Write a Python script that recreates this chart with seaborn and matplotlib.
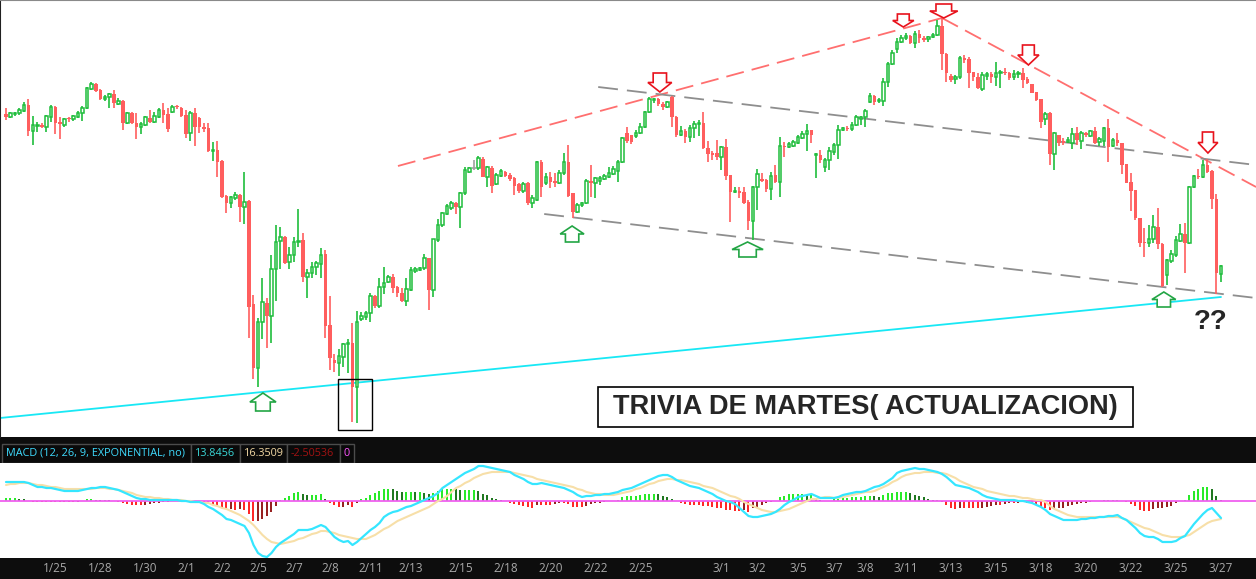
import matplotlib
matplotlib.use("Agg")
import matplotlib.pyplot as plt
from matplotlib.patches import Polygon, Rectangle
import numpy as np
import pandas as pd
import seaborn as sns

# ---- velas (precio en unidades del grafico) ----
opens = [
    386, 383, 386, 387, 389, 395, 369, 374, 375, 373,
    383, 393, 378, 375, 382, 381, 383, 387, 392, 411,
    416, 410, 401, 403, 406, 396, 399, 377, 387, 377,
    373, 375, 382, 378, 383, 390, 386, 388, 394, 392,
    385, 367, 387, 382, 373, 372, 349, 350, 339, 304,
    297, 302, 305, 293, 299, 196, 132, 178, 197, 184,
    231, 259, 263, 238, 245, 258, 260, 223, 227, 233,
    236, 246, 175, 140, 137, 143, 156, 157, 113, 181,
    183, 187, 204, 194, 213, 218, 223, 213, 207, 199,
    210, 229, 230, 232, 242, 210, 260, 275, 286, 292,
    297, 293, 307, 328, 332, 332, 341, 323, 332, 316,
    324, 328, 325, 322, 316, 309, 317, 297, 300, 338,
    317, 323, 319, 317, 327, 338, 307, 288, 295, 297,
    319, 317, 319, 321, 323, 326, 329, 338, 367, 365,
    364, 367, 373, 388, 400, 401, 396, 393, 403, 383,
    365, 369, 363, 372, 376, 377, 352, 347, 347, 343,
    353, 325, 308, 309, 308, 298, 279, 313, 321, 320,
    311, 325, 318, 354, 353, 354, 357, 362, 366, 370,
    345, 345, 333, 340, 348, 355, 370, 372, 371, 375,
    381, 383, 398, 404, 399, 399, 418, 436, 451, 458,
    462, 464, 457, 466, 462, 461, 463, 465, 474, 446,
    424, 421, 423, 442, 441, 428, 423, 411, 424, 426,
    423, 427, 428, 427, 423, 426, 427, 421, 416, 408,
    401, 381, 387, 346, 365, 359, 358, 357, 367, 359,
    367, 364, 369, 358, 359, 372, 354, 360, 357, 336,
    318, 310, 282, 258, 257, 261, 273, 256, 225, 239,
    245, 259, 266, 257, 313, 324, 323, 335, 329, 301,
    226,
]
highs = [
    392, 388, 388, 392, 398, 401, 384, 378, 377, 385,
    395, 394, 383, 382, 383, 385, 389, 394, 413, 418,
    417, 411, 405, 407, 410, 402, 400, 388, 388, 387,
    378, 384, 390, 388, 392, 397, 392, 395, 395, 393,
    390, 389, 392, 383, 377, 377, 358, 359, 340, 305,
    304, 308, 306, 328, 300, 205, 182, 222, 202, 245,
    275, 273, 264, 253, 263, 291, 267, 231, 238, 239,
    252, 250, 204, 146, 151, 157, 161, 177, 189, 188,
    189, 207, 205, 222, 233, 225, 226, 214, 212, 222,
    233, 233, 233, 246, 242, 261, 281, 288, 296, 299,
    298, 308, 333, 333, 340, 344, 343, 334, 334, 327,
    331, 329, 327, 323, 317, 318, 318, 305, 339, 340,
    327, 328, 327, 330, 347, 355, 307, 297, 298, 321,
    335, 323, 324, 326, 333, 334, 340, 363, 373, 365,
    370, 377, 389, 403, 402, 402, 398, 399, 404, 384,
    374, 371, 375, 379, 380, 388, 359, 349, 360, 354,
    361, 325, 313, 313, 313, 300, 314, 331, 327, 321,
    328, 335, 363, 358, 358, 360, 365, 369, 376, 370,
    347, 350, 342, 353, 357, 375, 373, 374, 378, 385,
    384, 391, 407, 405, 402, 422, 438, 450, 462, 465,
    467, 465, 469, 470, 464, 464, 467, 480, 482, 447,
    426, 425, 444, 445, 443, 428, 427, 428, 428, 428,
    438, 430, 432, 428, 430, 429, 432, 423, 416, 408,
    401, 388, 388, 368, 365, 362, 363, 372, 373, 369,
    368, 370, 373, 363, 373, 381, 362, 367, 357, 336,
    327, 310, 282, 272, 275, 285, 292, 257, 241, 250,
    264, 276, 277, 314, 325, 331, 340, 341, 330, 306,
    235,
]
lows = [
    380, 382, 384, 385, 388, 364, 355, 368, 372, 368,
    378, 366, 361, 373, 378, 379, 382, 379, 391, 410,
    408, 400, 399, 392, 392, 395, 370, 376, 376, 361,
    366, 374, 377, 377, 382, 377, 368, 387, 391, 383,
    362, 359, 354, 367, 368, 348, 339, 323, 302, 287,
    292, 300, 278, 276, 162, 121, 113, 161, 152, 157,
    199, 231, 236, 231, 238, 253, 218, 202, 222, 225,
    222, 162, 130, 128, 124, 133, 127, 78, 77, 179,
    180, 178, 192, 192, 206, 217, 207, 203, 198, 194,
    209, 227, 229, 230, 190, 203, 258, 273, 285, 290,
    286, 272, 305, 327, 330, 330, 323, 313, 307, 315,
    323, 323, 319, 305, 307, 307, 295, 292, 299, 303,
    315, 312, 313, 316, 325, 303, 282, 287, 293, 296,
    303, 302, 315, 320, 322, 325, 318, 337, 357, 356,
    362, 366, 372, 387, 397, 394, 390, 392, 373, 363,
    364, 357, 358, 362, 364, 351, 338, 340, 340, 330,
    320, 278, 307, 302, 296, 270, 260, 290, 318, 308,
    300, 317, 303, 343, 352, 353, 356, 361, 349, 357,
    322, 337, 328, 330, 345, 341, 369, 369, 369, 374,
    375, 373, 397, 395, 397, 394, 413, 435, 447, 457,
    460, 456, 452, 457, 458, 458, 462, 464, 430, 418,
    418, 416, 421, 437, 412, 419, 411, 409, 420, 417,
    414, 412, 425, 420, 420, 422, 412, 416, 407, 399,
    372, 375, 335, 330, 354, 355, 357, 351, 355, 351,
    363, 363, 356, 354, 354, 338, 353, 354, 326, 317,
    289, 280, 253, 243, 253, 257, 251, 213, 215, 237,
    243, 258, 227, 256, 312, 321, 322, 327, 291, 206,
    218,
]
closes = [
    383, 387, 387, 390, 395, 369, 375, 375, 373, 384,
    393, 377, 376, 381, 381, 384, 387, 392, 412, 416,
    409, 401, 403, 406, 397, 399, 377, 387, 377, 373,
    376, 383, 378, 384, 390, 385, 371, 393, 393, 384,
    366, 387, 373, 373, 371, 349, 350, 338, 303, 297,
    303, 305, 293, 298, 193, 132, 178, 198, 184, 231,
    258, 263, 237, 245, 258, 259, 223, 227, 233, 237,
    245, 174, 142, 137, 144, 156, 157, 113, 178, 184,
    187, 204, 194, 213, 217, 223, 212, 207, 199, 211,
    230, 231, 232, 242, 210, 261, 275, 287, 294, 297,
    293, 307, 330, 332, 332, 342, 323, 333, 314, 325,
    329, 324, 321, 314, 309, 316, 297, 302, 338, 313,
    323, 318, 317, 327, 338, 304, 288, 295, 297, 319,
    317, 322, 322, 324, 327, 331, 338, 362, 359, 358,
    367, 373, 388, 401, 401, 396, 393, 398, 383, 365,
    369, 363, 372, 376, 377, 352, 346, 345, 343, 353,
    324, 308, 309, 307, 297, 279, 313, 326, 319, 311,
    324, 318, 354, 353, 356, 358, 363, 366, 369, 365,
    346, 340, 340, 349, 355, 370, 372, 371, 375, 383,
    383, 389, 404, 398, 400, 418, 436, 447, 458, 462,
    464, 457, 466, 462, 460, 463, 465, 474, 446, 427,
    420, 423, 442, 440, 427, 423, 412, 425, 426, 423,
    427, 428, 427, 422, 426, 427, 420, 417, 407, 400,
    378, 386, 346, 367, 357, 357, 360, 366, 360, 367,
    365, 369, 357, 361, 372, 353, 360, 357, 335, 317,
    309, 282, 257, 257, 261, 273, 256, 214, 240, 246,
    260, 266, 257, 313, 324, 323, 335, 328, 301, 227,
    234,
]

# ---- MACD (12, 26, 9) ----
macd_line = [
    19, 19, 19, 19, 19, 18, 16, 14, 14, 13,
    13, 12, 11, 10, 10, 10, 10, 11, 12, 13,
    13, 14, 14, 13, 12, 11, 9, 7, 5, 3,
    2, 2, 1, 1, 1, 1, 1, 1, 1, 0,
    0, -1, -1, -1, -3, -6, -8, -11, -14, -18,
    -19, -21, -23, -25, -32, -44, -52, -55, -56, -52,
    -46, -42, -39, -36, -33, -29, -29, -29, -28, -26,
    -24, -26, -31, -36, -39, -41, -40, -44, -41, -37,
    -33, -29, -26, -22, -16, -13, -11, -10, -8, -6,
    -5, -3, -1, 1, 3, 5, 8, 13, 16, 19,
    22, 25, 28, 30, 32, 35, 35, 34, 33, 32,
    31, 30, 29, 26, 24, 22, 19, 17, 17, 18,
    17, 16, 15, 14, 13, 11, 9, 6, 4, 5,
    5, 6, 6, 7, 7, 8, 9, 11, 12, 13,
    15, 17, 19, 21, 23, 25, 26, 26, 24, 21,
    19, 17, 15, 14, 13, 11, 9, 7, 4, 2,
    0, -1, -3, -7, -11, -15, -16, -16, -15, -14,
    -13, -11, -8, -4, -1, 1, 4, 5, 6, 7,
    5, 3, 3, 3, 3, 4, 6, 7, 8, 9,
    9, 10, 12, 14, 15, 17, 20, 23, 28, 30,
    31, 32, 33, 32, 32, 31, 30, 29, 27, 24,
    20, 16, 15, 14, 13, 11, 9, 6, 4, 3,
    2, 1, 1, 1, 1, 0, 0, -1, -2, -4,
    -6, -9, -13, -15, -17, -19, -19, -19, -19, -18,
    -18, -17, -17, -16, -16, -15, -15, -14, -17, -19,
    -23, -27, -32, -35, -36, -36, -38, -41, -41, -41,
    -40, -37, -35, -29, -23, -18, -13, -9, -7, -12,
    -17,
]
signal_line = [
    16, 17, 17, 18, 18, 18, 17, 16, 16, 15,
    14, 14, 13, 12, 12, 12, 12, 12, 12, 12,
    13, 13, 13, 12, 12, 11, 10, 9, 8, 6,
    5, 4, 4, 3, 3, 2, 2, 1, 1, 1,
    0, 0, -1, -1, -2, -2, -4, -5, -7, -8,
    -10, -12, -14, -17, -20, -24, -29, -34, -38, -41,
    -42, -43, -42, -41, -40, -38, -37, -35, -33, -32,
    -30, -30, -31, -32, -34, -35, -36, -37, -38, -38,
    -38, -36, -34, -31, -28, -26, -23, -20, -18, -16,
    -14, -12, -10, -8, -6, -3, 0, 2, 5, 9,
    13, 15, 18, 20, 23, 25, 27, 28, 29, 29,
    29, 29, 29, 28, 27, 26, 25, 24, 22, 21,
    20, 19, 18, 17, 16, 15, 14, 12, 11, 9,
    8, 7, 7, 6, 6, 6, 7, 8, 9, 10,
    12, 13, 15, 17, 18, 20, 21, 22, 22, 21,
    21, 20, 19, 18, 17, 15, 14, 13, 11, 9,
    7, 5, 4, 2, -1, -3, -5, -7, -9, -10,
    -11, -11, -10, -9, -8, -6, -4, -2, 0, 2,
    2, 3, 4, 4, 3, 3, 4, 5, 6, 7,
    8, 9, 9, 10, 12, 14, 16, 19, 21, 24,
    26, 27, 28, 28, 29, 29, 29, 28, 28, 27,
    25, 23, 20, 18, 16, 14, 13, 12, 10, 9,
    8, 7, 6, 5, 5, 4, 3, 3, 2, 1,
    1, -1, -5, -8, -10, -12, -14, -15, -16, -16,
    -16, -16, -16, -16, -16, -16, -16, -16, -17, -19,
    -21, -23, -25, -27, -28, -30, -32, -34, -35, -36,
    -36, -36, -35, -34, -31, -28, -25, -22, -20, -19,
    -18,
]
macd_hist = [
    2.7, 2.7, 2.7, 2.3, 2.0, 0.3, -1, -1.3, -1.3, -1.3,
    -1.3, -1.3, -1.3, -1.3, -1.3, -1.3, -1, -0.3, 1.7, 2,
    1.3, 1, 1, 0.7, 0, -1, -2.3, -3, -3.7, -4.3,
    -4.3, -3.7, -3, -2.3, -1.7, -1.3, -0.7, -0.3, 0, 0,
    0, -0.3, -1, -1.7, -2.3, -3, -4, -5.3, -6.7, -8.3,
    -8, -9, -7.7, -9.3, -12.7, -20.3, -19.7, -17.7, -14.7, -10.7,
    -4.7, 1, 2.7, 5, 7.7, 8.7, 6.7, 6, 6, 6,
    7, 2, -2.3, -4, -6.3, -5.7, -4, -5.7, -1.7, 1.7,
    3.3, 6, 7.7, 10, 11.7, 12, 11.7, 10.3, 9.3, 9.3,
    9.3, 8.7, 8.7, 8.3, 7, 7.7, 10, 11.7, 12, 12,
    11.7, 11, 11, 11, 11, 10, 6.7, 6, 2.7, 1.7,
    1, 0, -2, -3, -4, -5, -5.7, -6.7, -4, -4,
    -4, -4, -3.3, -2.3, -2.3, -3, -5.7, -5.7, -5.7, -4.7,
    -3, -2.3, -1.7, -1, 0, 0, 1, 3.7, 5, 5.3,
    5.3, 5.7, 6.7, 7, 7, 6.7, 5, 4.3, 2, 0,
    -2.3, -3.3, -3.7, -3.7, -4, -4.7, -5, -5.7, -6.7, -7.3,
    -9, -9, -10, -10, -9, -10.7, -7.3, -5.7, -4, -2.3,
    -1.3, 0, 3.7, 5, 6.7, 7, 7, 7, 6.7, 6.7,
    1.7, 0.7, 0.3, 0.3, 2.7, 2.7, 2.7, 3.3, 3.7, 4,
    4.3, 5, 5.3, 5, 4.3, 6, 7.7, 8.3, 9.3, 9.3,
    9.3, 7.7, 6, 5, 3.7, 1.7, 1, 1, -0.7, -4,
    -6.7, -8, -6.7, -6.7, -6.7, -6.7, -7.3, -6.7, -5.7, -5,
    -4, -4, -3.3, -2.3, -2.3, -1.7, -1.3, -2.3, -3, -4,
    -5.7, -7.3, -9, -8, -7.3, -6.7, -5, -4, -3, -2.3,
    -1.7, -0.7, -0.3, 0, 1, 1, 1, 1, 0, -1.3,
    -3, -4.7, -9, -9.7, -9.7, -8.3, -7.3, -6.7, -6.3, -5,
    -2.3, 0, 1, 6, 10.3, 12, 13.7, 13.7, 12, 5,
    1,
]

# fechas del eje x (indice de vela)
tick_pos = [11, 21, 31, 40, 48, 56, 64, 72, 81, 90, 101, 111, 121, 131,
            141, 159, 167, 176, 184, 191, 200, 210, 220, 230, 240, 250, 260, 270]
tick_labels = ["1/25", "1/28", "1/30", "2/1", "2/2", "2/5", "2/7", "2/8", "2/11",
               "2/13", "2/15", "2/18", "2/20", "2/22", "2/25", "3/1", "3/2", "3/5",
               "3/7", "3/8", "3/11", "3/13", "3/15", "3/18", "3/20", "3/22", "3/25",
               "3/27"]

header_values = ["13.8456", "16.3509", "-2.50536", "0"]

sns.set_style("white")
plt.rcParams["font.family"] = ["Open Sans", "DejaVu Sans"]

W, H = 1256, 579
fig = plt.figure(figsize=(W / 100, H / 100), dpi=100, facecolor="#0d0d0d")


def fpos(x0, y0, x1, y1):
    return [x0 / W, 1 - y1 / H, (x1 - x0) / W, (y1 - y0) / H]


ax = fig.add_axes(fpos(0, 0, W, 437))
hdr = fig.add_axes(fpos(0, 443, W, 463))
axm = fig.add_axes(fpos(0, 463, W, 558))

GREEN = "#1fbd3c"
RED = "#ff5e5e"
CYAN = "#35e6ff"
WHEAT = "#f7dfa8"

df = pd.DataFrame({"o": opens, "h": highs, "l": lows, "c": closes})
df["i"] = np.arange(len(df))
up = df[df.c > df.o]
dn = df[df.c < df.o]
flat = df[df.c == df.o]

# ---- panel de precio ----
ax.set_facecolor("white")
ax.vlines(up.i, up.l, up.h, color=GREEN, lw=1.2, zorder=3)
ax.vlines(dn.i, dn.l, dn.h, color=RED, lw=1.2, zorder=3)
ax.vlines(flat.i, flat.l, flat.h, color="#a0a0a0", lw=1.2, zorder=3)
ax.hlines(flat.c, flat.i - 0.35, flat.i + 0.35, color="#a0a0a0", lw=1.2, zorder=4)
ax.bar(up.i, up.c - up.o, bottom=up.o, width=0.62, facecolor="white",
       edgecolor=GREEN, lw=1.1, zorder=4)
ax.bar(dn.i, dn.c - dn.o, bottom=dn.o, width=0.72, color=RED, lw=0, zorder=4)

# lineas de tendencia
ax.plot([-1.33, 270], [82, 203], color="#18e8f5", lw=1.3, zorder=2)
ax.plot([87.1, 208], [334, 482], color="#ff6f6f", lw=1.3, dashes=(10, 4.5), zorder=2)
ax.plot([208, 277.8], [482, 313], color="#ff6f6f", lw=1.3, dashes=(10, 4.5), zorder=2)
ax.plot([131.6, 277.8], [413, 335], color="#8e8e8e", lw=1.3, dashes=(11, 5), zorder=2)
ax.plot([119.6, 277.8], [286, 202], color="#8e8e8e", lw=1.3, dashes=(11, 5), zorder=2)


def block_arrow(xc, tip, w, h, color, down):
    s = -1 if down else 1
    hh = h * 0.5
    sw = w * 0.28
    pts = [(xc, tip), (xc + w / 2, tip - s * hh), (xc + sw, tip - s * hh),
           (xc + sw, tip - s * h), (xc - sw, tip - s * h), (xc - sw, tip - s * hh),
           (xc - w / 2, tip - s * hh)]
    ax.add_patch(Polygon(pts, closed=True, facecolor="white", edgecolor=color,
                         lw=1.2, zorder=6))


for xc, tip, w, h in [(145.3, 408, 5.3, 19), (199.4, 473, 4.7, 13), (208.4, 482, 6.2, 14),
                      (227.2, 435, 4.7, 20), (267.1, 347, 4.4, 21)]:
    block_arrow(xc, tip, w, h, "#e8121c", True)
for xc, tip, w, h in [(57.1, 107, 5.8, 18), (125.8, 274, 5.3, 16),
                      (164.8, 258, 6.9, 15), (257.3, 208, 5.3, 15)]:
    block_arrow(xc, tip, w, h, "#22a544", False)

ax.add_patch(Rectangle((73.8, 70), 7.5, 51, fill=False, edgecolor="black", lw=1, zorder=6))
ax.add_patch(Rectangle((131.6, 73), 118.8, 40, facecolor="white", edgecolor="black",
                       lw=1.2, zorder=6))
ax.text(191, 93, "TRIVIA DE MARTES( ACTUALIZACION)", ha="center", va="center",
        fontsize=19.6, fontweight="bold", family="Liberation Sans", zorder=7)
ax.text(267.6, 178, "??", ha="center", va="center", fontsize=20, fontweight="bold",
        family="Liberation Sans", zorder=7)

ax.set_xlim(-1.333, 277.78)
ax.set_ylim(63, 500)
ax.set_xticks([])
ax.set_yticks([])
for side in ["right", "bottom"]:
    ax.spines[side].set_visible(False)
ax.spines["top"].set_color("#8a8a8a")
ax.spines["left"].set_color("#202020")
ax.spines["left"].set_linewidth(1.5)

# ---- cabecera MACD ----
hdr.set_facecolor("#0d0d0d")
hdr.set_xlim(0, W)
hdr.set_ylim(20, 0)
hdr.axis("off")
cells = [(2, 191), (191, 240), (240, 287), (287, 340), (340, 354)]
for x0, x1 in cells:
    hdr.add_patch(Rectangle((x0, 0.5), x1 - x0, 19, facecolor="#0a0a0a",
                            edgecolor="#4c4c4c", lw=1))
hdr.text(6, 10, "MACD (12, 26, 9, EXPONENTIAL, no)", color="#3fdcff", fontsize=7.8,
         va="center")
for (x0, x1), txt, col in zip(cells[1:], header_values,
                              ["#3ad8d8", "#f3d9a4", "#a01212", "#ff55ff"]):
    hdr.text(x0 + 4, 10, txt, color=col, fontsize=7.8, va="center")

# ---- panel MACD ----
axm.set_facecolor("white")
hist = np.array(macd_hist)
prev = np.concatenate([[hist[0]], hist[:-1]])
bar_cols = np.where(hist >= 0,
                    np.where(hist >= prev, "#12e812", "#0a6a0a"),
                    np.where(hist <= prev, "#ff1010", "#8c0a0a"))
axm.vlines(np.arange(len(hist)), 0, hist, colors=bar_cols, lw=1.3, zorder=2)
axm.axhline(0, color="#f060f0", lw=1.3, zorder=3)
sns.lineplot(x=np.arange(len(signal_line)), y=signal_line, ax=axm, color=WHEAT,
             lw=1.5, zorder=4)
sns.lineplot(x=np.arange(len(macd_line)), y=macd_line, ax=axm, color=CYAN,
             lw=1.6, zorder=5)
axm.set_xlim(-1.333, 277.78)
axm.set_ylim(-57, 38)
axm.set_yticks([])
axm.set_xticks(tick_pos)
axm.set_xticklabels(tick_labels)
axm.tick_params(axis="x", length=0, pad=3, colors="#a8a8a8", labelsize=8.5)
for s in axm.spines.values():
    s.set_visible(False)

fig.savefig("out.png", dpi=100, facecolor=fig.get_facecolor())
